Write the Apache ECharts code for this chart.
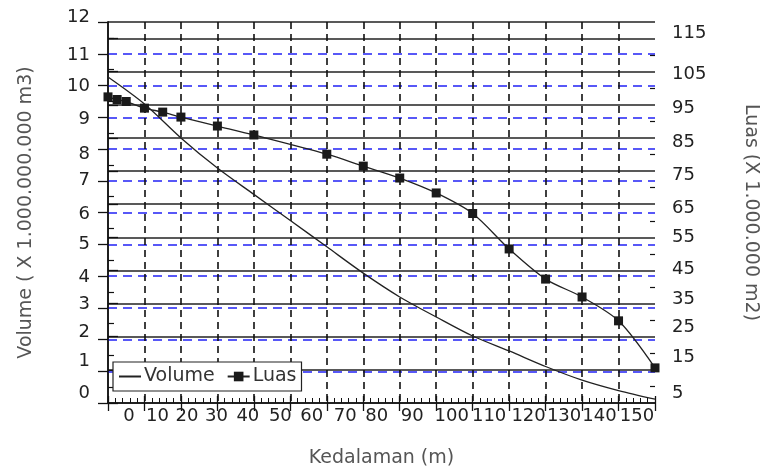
<!DOCTYPE html>
<html>
<head>
<meta charset="utf-8">
<title>Volume dan Luas</title>
<script src="https://cdn.jsdelivr.net/npm/echarts@6/dist/echarts.min.js"></script>
<style>
    html, body { margin: 0; padding: 0; background: #fff; }
    #chart { width: 760px; height: 471px; }
</style>
</head>
<body>
<div id="chart"></div>
<script>
// data
var depthVolume = [0, 10, 20, 30, 40, 50, 60, 70, 80, 90, 100, 110, 120, 130, 140, 150];
var volume = [10.27, 9.42, 8.35, 7.40, 6.57, 5.75, 4.92, 4.09, 3.34, 2.71, 2.11, 1.64, 1.15, 0.72, 0.39, 0.12];
var depthLuas = [0, 2.5, 5, 10, 15, 20, 30, 40, 60, 70, 80, 90, 100, 110, 120, 130, 140, 150];
var luas = [97.4, 96.6, 96.0, 94.0, 92.8, 91.3, 88.6, 85.9, 80.1, 76.5, 72.9, 68.4, 62.2, 51.5, 42.4, 37.0, 29.8, 15.6];

var FONT = 'DejaVu Sans';
var LABEL_COLOR = '#222';
var NAME_COLOR = '#555';

// the tick labels of the original sit a little off their ticks
var xLabelShift = [21, 13, 6, -1, -6, -10, -15, -18, -23, -24, -21, -20, -17, -18, -19, -18];
var leftLabelShift = [-10, -10, -7, -3, 1, 0, 2, 0, 5, 2, 1, 2, -5];
var rightLabelShift = [-10, -13, -9, -4, -1, 0, 4, 4, 4, 4, 3, -5];

function shiftRich(shifts, horizontal) {
    var rich = {};
    for (var i = 0; i < shifts.length; i++) {
        var d = shifts[i];
        var pad = horizontal
            ? [0, d < 0 ? -2 * d : 0, 0, d > 0 ? 2 * d : 0]
            : [d > 0 ? 2 * d : 0, 0, d < 0 ? -2 * d : 0, 0];
        rich['s' + i] = {padding: pad, fontSize: 18, fontFamily: FONT, color: LABEL_COLOR};
    }
    return rich;
}

function pairs(xs, ys) {
    var out = [];
    for (var i = 0; i < xs.length; i++) {
        out.push([xs[i], ys[i]]);
    }
    return out;
}

var myChart = echarts.init(document.getElementById('chart'), null, {renderer: 'canvas'});

var option = {
    backgroundColor: '#fff',
    animation: false,
    textStyle: {fontFamily: FONT},
    grid: {left: 108, right: 105, top: 22, bottom: 68, outerBoundsMode: 'none', containLabel: false},
    legend: {
        data: [
            {name: 'Volume', itemStyle: {color: 'rgba(0,0,0,0)', borderWidth: 0}},
            {name: 'Luas'}
        ],
        left: 113,
        top: 362,
        orient: 'horizontal',
        backgroundColor: '#fff',
        borderColor: '#222',
        borderWidth: 1.2,
        borderRadius: 0,
        padding: [5, 5],
        itemGap: 12,
        itemWidth: 22,
        itemHeight: 12,
        textStyle: {fontSize: 19, fontFamily: FONT, color: '#333', padding: [0, 0, 0, -2]}
    },
    xAxis: [{
        type: 'value',
        position: 'bottom',
        min: 0,
        max: 150,
        interval: 10,
        z: 1,
        name: 'Kedalaman (m)',
        nameLocation: 'middle',
        nameGap: 46,
        nameTextStyle: {fontSize: 19, fontFamily: FONT, color: NAME_COLOR},
        axisLine: {lineStyle: {color: '#111', width: 1.5}},
        axisTick: {show: true, inside: false, length: 8, lineStyle: {color: '#111', width: 1.3}},
        axisLabel: {
            margin: 4,
            formatter: function (value) {
                return '{s' + Math.round(value / 10) + '|' + value + '}';
            },
            rich: shiftRich(xLabelShift, true)
        },
        splitLine: {
            show: true,
            showMinLine: false,
            showMaxLine: false,
            lineStyle: {color: '#111', width: 1.6, type: [7, 5]}
        }
    }, {
        type: 'value',
        position: 'bottom',
        min: 0,
        max: 150,
        interval: 10,
        z: 1,
        axisLine: {show: false},
        axisTick: {show: true, inside: true, length: 7, lineStyle: {color: '#111', width: 1.3}},
        minorTick: {show: true, splitNumber: 5, length: 5, lineStyle: {color: '#111', width: 1}},
        axisLabel: {show: false},
        splitLine: {show: false}
    }],
    yAxis: [{
        type: 'value',
        position: 'left',
        min: 0,
        max: 12,
        interval: 1,
        z: 1,
        name: 'Volume ( X 1.000.000.000 m3)',
        nameLocation: 'middle',
        nameGap: 72,
        nameTextStyle: {fontSize: 19, fontFamily: FONT, color: NAME_COLOR},
        axisLine: {show: true, lineStyle: {color: '#111', width: 1.5}},
        axisTick: {show: true, inside: false, length: 10, lineStyle: {color: '#111', width: 1.3}},
        axisLabel: {
            margin: 18,
            formatter: function (value) {
                return '{s' + Math.round(value) + '|' + value + '}';
            },
            rich: shiftRich(leftLabelShift, false)
        },
        splitLine: {
            show: true,
            showMinLine: false,
            showMaxLine: false,
            lineStyle: {color: '#2222f5', width: 1.7, type: [9, 6]}
        }
    }, {
        type: 'value',
        position: 'right',
        min: 5,
        max: 120,
        interval: 10,
        z: 0,
        name: 'Luas (X 1.000.000 m2)',
        nameLocation: 'middle',
        nameRotate: -90,
        nameGap: 86,
        nameTextStyle: {fontSize: 19, fontFamily: FONT, color: NAME_COLOR},
        axisLine: {show: true, lineStyle: {color: '#111', width: 1.5}},
        axisTick: {show: true, inside: false, length: 10, lineStyle: {color: '#111', width: 1.3}},
        axisLabel: {
            margin: 17,
            showMaxLabel: false,
            formatter: function (value) {
                return '{s' + Math.round((value - 5) / 10) + '|' + value + '}';
            },
            rich: shiftRich(rightLabelShift, false)
        },
        splitLine: {show: true, lineStyle: {color: '#222', width: 1.5, type: 'solid'}}
    }, {
        type: 'value',
        position: 'left',
        min: 0,
        max: 12,
        interval: 1,
        z: 1,
        axisLine: {show: false},
        axisTick: {show: false, inside: true},
        minorTick: {show: true, splitNumber: 2, length: 6, lineStyle: {color: '#111', width: 1.2}},
        axisLabel: {show: false},
        splitLine: {show: false}
    }, {
        type: 'value',
        position: 'right',
        min: 5,
        max: 120,
        interval: 10,
        z: 1,
        axisLine: {show: false},
        axisTick: {show: false, inside: true},
        minorTick: {show: true, splitNumber: 2, length: 5, lineStyle: {color: '#111', width: 1.2}},
        axisLabel: {show: false},
        splitLine: {show: false}
    }],
    series: [{
        name: 'Volume',
        type: 'line',
        xAxisIndex: 0,
        yAxisIndex: 0,
        z: 3,
        smooth: 0.3,
        symbol: 'none',
        data: pairs(depthVolume, volume),
        itemStyle: {color: '#222'},
        lineStyle: {color: '#222', width: 1.3}
    }, {
        name: 'Luas',
        type: 'line',
        xAxisIndex: 0,
        yAxisIndex: 1,
        z: 3,
        smooth: 0.3,
        symbol: 'rect',
        symbolSize: 9,
        showSymbol: true,
        data: pairs(depthLuas, luas),
        itemStyle: {color: '#1a1a1a'},
        lineStyle: {color: '#222', width: 1.3}
    }]
};

if (option && typeof option === "object") {
    myChart.setOption(option, true);
}
</script>
</body>
</html>
